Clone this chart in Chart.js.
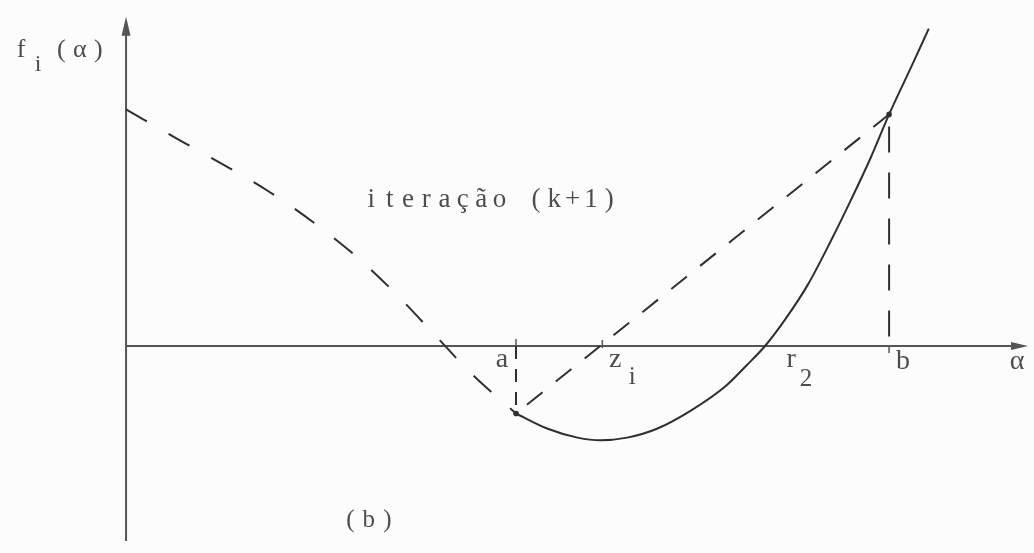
<!DOCTYPE html>
<html lang="pt">
<head>
<meta charset="utf-8">
<title>iteração (k+1)</title>
<script src="https://cdn.jsdelivr.net/npm/chart.js@4.4.1/dist/chart.umd.min.js"></script>
<style>
  html, body { margin: 0; padding: 0; background: #fcfcfc; }
  canvas { display: block; }
</style>
</head>
<body>
<canvas id="secante" width="1034" height="553"></canvas>
<script>
// f_i(alpha) to the left of a (drawn dashed)
const leftAlpha = [0, 0.52, 0.98, 1.45, 1.90, 2.37, 2.76, 3.12, 3.48, 3.93];
const leftF     = [2.40, 2.10, 1.84, 1.56, 1.245, 0.865, 0.487, 0.103, -0.28, -0.685];

// f_i(alpha) from a onwards (solid)
const solidAlpha = [3.93, 4.25, 4.55, 4.78, 5.05, 5.35, 5.70, 6.05, 6.25, 6.44, 6.65, 6.87, 7.10, 7.30, 7.50, 7.69, 7.94, 8.09];
const solidF     = [-0.685, -0.84, -0.93, -0.957, -0.93, -0.84, -0.65, -0.40, -0.20, 0.0, 0.28, 0.62, 1.06, 1.47, 1.90, 2.35, 2.89, 3.22];

// bracket ends, secant root and the root r2
const aAlpha = 3.93, aF = -0.685;
const bAlpha = 7.69, bF = 2.35;
const zAlpha = 4.80;
const r2Alpha = 6.44;

// secant through (a, f(a)) and (b, f(b))
const secantAlpha = [aAlpha, bAlpha];
const secantF     = [aF, bF];

// axis extents
const yAxisBottom = -1.98, yAxisTop = 3.34, xAxisEnd = 9.09;

const ink = '#2f2f2f';
const axisInk = '#555555';
const textInk = '#4d4d4d';

function pts(xs, ys) {
  return xs.map((x, i) => ({ x: x, y: ys[i] }));
}

// draw text with a fixed pitch, typewriter style
function monoText(ctx, text, x, y, pitch) {
  ctx.textAlign = 'center';
  [...text].forEach((ch, i) => ctx.fillText(ch, x + i * pitch + pitch / 2, y));
}

const axesPlugin = {
  id: 'axes',
  beforeDatasetsDraw(chart) {
    const ctx = chart.ctx;
    const xs = chart.scales.x, ys = chart.scales.y;
    const x0 = xs.getPixelForValue(0), y0 = ys.getPixelForValue(0);
    const yTop = ys.getPixelForValue(yAxisTop), yBot = ys.getPixelForValue(yAxisBottom);
    const xEnd = xs.getPixelForValue(xAxisEnd);
    ctx.save();
    ctx.strokeStyle = axisInk;
    ctx.fillStyle = axisInk;
    ctx.lineWidth = 2;
    ctx.beginPath();
    ctx.moveTo(x0, yBot);
    ctx.lineTo(x0, yTop + 10);
    ctx.moveTo(x0, y0);
    ctx.lineTo(xEnd - 10, y0);
    ctx.stroke();
    // arrow heads
    ctx.beginPath();
    ctx.moveTo(x0, yTop);
    ctx.lineTo(x0 - 4.5, yTop + 19);
    ctx.lineTo(x0 + 4.5, yTop + 19);
    ctx.closePath();
    ctx.fill();
    ctx.beginPath();
    ctx.moveTo(xEnd, y0);
    ctx.lineTo(xEnd - 17, y0 - 4);
    ctx.lineTo(xEnd - 17, y0 + 4);
    ctx.closePath();
    ctx.fill();
    // small ticks at a, z_i and b
    ctx.lineWidth = 1.5;
    ctx.beginPath();
    const ta = xs.getPixelForValue(aAlpha), tz = xs.getPixelForValue(zAlpha), tb = xs.getPixelForValue(bAlpha);
    ctx.moveTo(ta, y0 - 7); ctx.lineTo(ta, y0);
    ctx.moveTo(tz, y0 - 6); ctx.lineTo(tz, y0 + 2);
    ctx.moveTo(tb, y0); ctx.lineTo(tb, y0 + 7);
    ctx.stroke();
    ctx.restore();
  }
};

const labelsPlugin = {
  id: 'labels',
  afterDatasetsDraw(chart) {
    const ctx = chart.ctx;
    const xs = chart.scales.x, ys = chart.scales.y;
    const x0 = xs.getPixelForValue(0), y0 = ys.getPixelForValue(0);
    ctx.save();
    ctx.fillStyle = textInk;
    ctx.textBaseline = 'alphabetic';

    // f_i(alpha)
    ctx.font = '26px "Liberation Serif"';
    monoText(ctx, 'f', x0 - 114, y0 - 289, 18);
    monoText(ctx, '(\u03b1)', x0 - 74, y0 - 289, 18.5);
    ctx.font = '24px "Liberation Serif"';
    monoText(ctx, 'i', x0 - 97, y0 - 275, 18);

    // iteration caption
    ctx.font = '27px "Liberation Serif"';
    monoText(ctx, 'iteração (k+1)', xs.getPixelForValue(2.38), ys.getPixelForValue(1.41), 18.3);

    // axis labels
    ctx.font = '28px "Liberation Serif"';
    ctx.textAlign = 'center';
    ctx.fillText('a', xs.getPixelForValue(aAlpha) - 14, y0 + 21);
    ctx.fillText('z', xs.getPixelForValue(zAlpha) + 13, y0 + 21);
    ctx.fillText('r', xs.getPixelForValue(r2Alpha) + 26, y0 + 21);
    ctx.fillText('b', xs.getPixelForValue(bAlpha) + 14, y0 + 23);
    ctx.fillText('\u03b1', xs.getPixelForValue(xAxisEnd) - 11, y0 + 23);
    ctx.font = '25px "Liberation Serif"';
    ctx.fillText('i', xs.getPixelForValue(zAlpha) + 30, y0 + 38);
    ctx.fillText('2', xs.getPixelForValue(r2Alpha) + 41, y0 + 40);

    // panel tag
    ctx.font = '25px "Liberation Serif"';
    monoText(ctx, '(b)', x0 + 215, y0 + 181, 18.5);
    ctx.restore();
  }
};

const ctx = document.getElementById('secante').getContext('2d');
new Chart(ctx, {
  type: 'scatter',
  data: {
    datasets: [
      {
        data: pts(leftAlpha, leftF),
        showLine: true,
        borderColor: ink,
        borderWidth: 2,
        borderDash: [24, 25],
        cubicInterpolationMode: 'monotone',
        pointRadius: 0
      },
      {
        data: pts(solidAlpha, solidF),
        showLine: true,
        borderColor: ink,
        borderWidth: 2,
        cubicInterpolationMode: 'monotone',
        pointRadius: 0
      },
      {
        data: pts(secantAlpha, secantF),
        showLine: true,
        borderColor: ink,
        borderWidth: 2,
        borderDash: [20, 17],
        borderDashOffset: -14,
        pointRadius: 0
      },
      {
        // vertical at a
        data: pts([aAlpha, aAlpha], [0, aF]),
        showLine: true,
        borderColor: ink,
        borderWidth: 2,
        borderDash: [13, 10],
        pointRadius: 0
      },
      {
        // vertical at b
        data: pts([bAlpha, bAlpha], [bF, 0]),
        showLine: true,
        borderColor: ink,
        borderWidth: 2,
        borderDash: [26, 20],
        borderDashOffset: -12,
        pointRadius: 0
      },
      {
        // end points of the bracket
        data: pts([aAlpha, bAlpha], [aF, bF]),
        showLine: false,
        pointRadius: 2.8,
        pointBackgroundColor: ink,
        pointBorderWidth: 0
      }
    ]
  },
  options: {
    animation: false,
    responsive: false,
    layout: { padding: 0 },
    plugins: {
      legend: { display: false },
      tooltip: { enabled: false }
    },
    scales: {
      x: { type: 'linear', min: -1.23, max: 9.11, display: false },
      y: { type: 'linear', min: -2.06, max: 3.47, display: false }
    }
  },
  plugins: [axesPlugin, labelsPlugin]
});
</script>
</body>
</html>
